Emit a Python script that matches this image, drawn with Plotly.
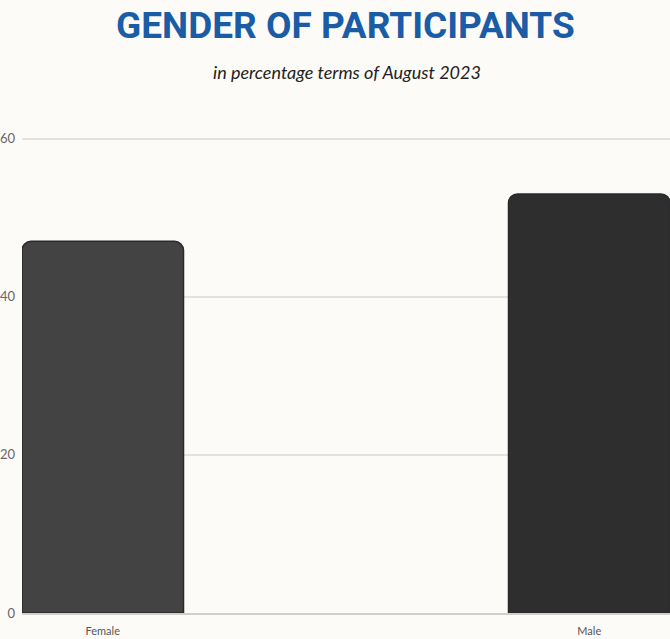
import plotly.graph_objects as go

categories = ["Female", "Male"]
values = [47, 53]
bar_colors = ["#434343", "#2e2e2e"]
y_ticks = [0, 20, 40, 60]
title_text = "GENDER OF PARTICIPANTS"
subtitle_text = "in percentage terms of August 2023"

fig = go.Figure()
fig.add_trace(go.Bar(
    x=categories,
    y=values,
    marker=dict(color=bar_colors, line=dict(color="#2a2a2a", width=1.5)),
    width=0.332,
    hoverinfo="x+y",
))

bg = "#fdfbf7"
plot_h = 476
fig.update_layout(
    width=670, height=639,
    paper_bgcolor=bg, plot_bgcolor=bg,
    margin=dict(l=22, r=0, t=137, b=26),
    barcornerradius=9,
    showlegend=False,
    font=dict(family="Lato", color="#555555"),
    xaxis=dict(
        range=[-0.166, 1.166],
        showgrid=False,
        showline=True, linecolor="#cfcfcf", linewidth=2,
        tickfont=dict(size=11, color="#555555", family="Lato"),
        ticks="", ticklabelstandoff=7,
    ),
    yaxis=dict(
        range=[0, 60.2],
        tickvals=y_ticks,
        showgrid=True, gridcolor="#e2e2e2", gridwidth=2,
        zeroline=False,
        tickfont=dict(size=13, color="#666666", family="Lato"),
        ticks="", ticklabelstandoff=6,
    ),
    annotations=[
        dict(text="<b>" + title_text + "</b>", x=(345 - 22) / 648, y=1 + 135 / plot_h,
             xref="paper", yref="paper",
             xanchor="center", yanchor="top", showarrow=False,
             font=dict(family="Roboto", size=37, color="#1a5ca6")),
        dict(text="<i>" + subtitle_text + "</i>", x=(347 - 22) / 648, y=1 + (137 - 72) / plot_h,
             xref="paper", yref="paper",
             xanchor="center", yanchor="middle", showarrow=False,
             font=dict(family="Lato", size=18, color="#222222")),
    ],
)

fig.write_html("out.html")
